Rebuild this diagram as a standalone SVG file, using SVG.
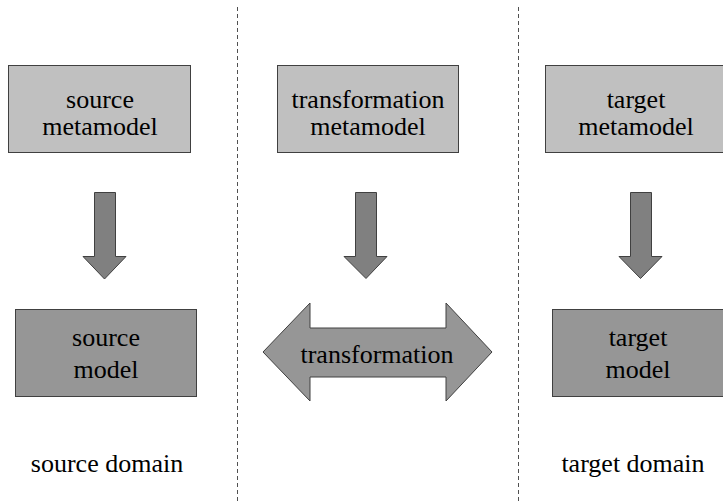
<svg xmlns="http://www.w3.org/2000/svg" width="723" height="502" viewBox="0 0 723 502">
<style>
.meta{fill:#c0c0c0;stroke:#404040;stroke-width:1}
.model{fill:#969696;stroke:#404040;stroke-width:1}
.arr{fill:#808080;stroke:#404040;stroke-width:1}
.dbl{fill:#969696;stroke:#404040;stroke-width:1}
.sep{stroke:#505050;stroke-width:1;stroke-dasharray:4 3;fill:none}
.t{font-family:'Times New Roman',Times,'Liberation Serif','Tinos','Nimbus Roman','DejaVu Serif',serif;font-size:26px;fill:#000;text-anchor:middle}
</style>
<rect width="723" height="502" fill="#fff"/>
<g id="separators">
<line class="sep" x1="237.5" y1="7" x2="237.5" y2="502"/>
<line class="sep" x1="518.5" y1="7" x2="518.5" y2="502"/>
</g>
<g id="source-metamodel">
<rect class="meta" x="8.5" y="65.5" width="182" height="87"/>
<text class="t" x="100" y="108">source</text>
<text class="t" x="100" y="135">metamodel</text>
</g>
<g id="transformation-metamodel">
<rect class="meta" x="277.5" y="65.5" width="181" height="87"/>
<text class="t" x="368" y="108" font-size="27">transformation</text>
<text class="t" x="368" y="135">metamodel</text>
</g>
<g id="target-metamodel">
<rect class="meta" x="545.5" y="65.5" width="190" height="87"/>
<text class="t" x="636" y="108">target</text>
<text class="t" x="636" y="135">metamodel</text>
</g>
<g id="source-model">
<rect class="model" x="15.5" y="309.5" width="181" height="87"/>
<text class="t" x="106" y="346">source</text>
<text class="t" x="106" y="378">model</text>
</g>
<g id="target-model">
<rect class="model" x="552.5" y="309.5" width="190" height="87"/>
<text class="t" x="638" y="346">target</text>
<text class="t" x="638" y="378">model</text>
</g>
<g id="transformation">
<polygon class="dbl" points="263,352 310,303 310,328 446,328 446,303 492,352 446,401 446,377 310,377 310,401"/>
<text class="t" x="377" y="363" font-size="27">transformation</text>
</g>
<g id="source-domain"><text class="t" x="107" y="472">source domain</text></g>
<g id="target-domain"><text class="t" x="633" y="472">target domain</text></g>
<g id="connectors">
<polygon class="arr" points="94.5,192.5 115.5,192.5 115.5,256.5 126,256.5 104.5,279 83,256.5 94.5,256.5"/>
<polygon class="arr" points="355.5,192.5 376.5,192.5 376.5,256.5 387,256.5 366,278.5 344,256.5 355.5,256.5"/>
<polygon class="arr" points="630.5,192.5 651.5,192.5 651.5,256.5 662,256.5 640.5,278.5 619,256.5 630.5,256.5"/>
</g>
</svg>
